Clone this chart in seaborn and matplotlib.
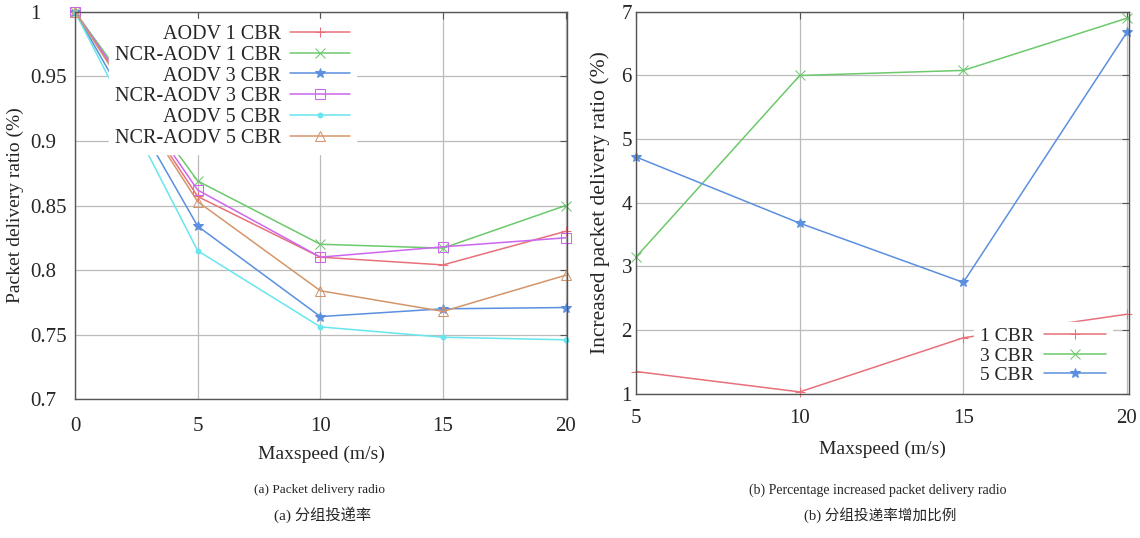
import numpy as np
import pandas as pd
import matplotlib
matplotlib.use("Agg")
import matplotlib.pyplot as plt
import seaborn as sns

# ---------------- data ----------------
speeds_a = [0, 5, 10, 15, 20]
aodv_1 = [1.000, 0.857, 0.810, 0.804, 0.830]
ncr_1 = [1.000, 0.869, 0.820, 0.817, 0.850]
aodv_3 = [1.000, 0.834, 0.764, 0.770, 0.771]
ncr_3 = [1.000, 0.862, 0.810, 0.818, 0.825]
aodv_5 = [1.000, 0.815, 0.756, 0.748, 0.746]
ncr_5 = [1.000, 0.853, 0.784, 0.768, 0.796]
labels_a = ["AODV 1 CBR", "NCR-AODV 1 CBR", "AODV 3 CBR",
            "NCR-AODV 3 CBR", "AODV 5 CBR", "NCR-AODV 5 CBR"]

speeds_b = [5, 10, 15, 20]
inc_1 = [1.35, 1.03, 1.88, 2.25]
inc_3 = [3.15, 6.00, 6.08, 6.90]
inc_5 = [4.72, 3.68, 2.75, 6.68]
labels_b = ["1 CBR", "3 CBR", "5 CBR"]

yticks_a = [0.7, 0.75, 0.8, 0.85, 0.9, 0.95, 1]
yticklabels_a = ["0.7", "0.75", "0.8", "0.85", "0.9", "0.95", "1"]
xticks_a = [0, 5, 10, 15, 20]
yticks_b = [1, 2, 3, 4, 5, 6, 7]
xticks_b = [5, 10, 15, 20]

# ---------------- style ----------------
sns.set_theme(style="white")
plt.rcParams["font.family"] = ["Liberation Serif", "DejaVu Serif"]
plt.rcParams["axes.edgecolor"] = "#555555"
plt.rcParams["axes.linewidth"] = 1.0

colors_a = ["#e8707a", "#6cc96c", "#5b8fe0", "#cc66ee", "#66e6ee", "#d4956a"]
markers_a = ["+", "x", "*", "s", ".", "^"]
colors_b = ["#e8707a", "#6cc96c", "#5b8fe0"]
markers_b = ["+", "x", "*"]

series_a = [aodv_1, ncr_1, aodv_3, ncr_3, aodv_5, ncr_5]
series_b = [inc_1, inc_3, inc_5]

fig = plt.figure(figsize=(11.4, 5.38), dpi=100)
ax1 = fig.add_axes([0.0658, 0.258, 0.4315, 0.720])
ax2 = fig.add_axes([0.558, 0.268, 0.432, 0.710])

FS = 14
TFS = 15

def style_axes(ax, xpad, ypad):
    ax.grid(True, color="#bbbbbb", linewidth=0.9)
    ax.set_axisbelow(True)
    ax.tick_params(direction="in", length=5, width=0.8, color="#555555",
                   top=True, right=True, labelsize=TFS)
    ax.tick_params(axis="x", pad=xpad)
    ax.tick_params(axis="y", pad=ypad)
    for s in ax.spines.values():
        s.set_visible(True)
        s.set_color("#555555")

def draw(ax, xs, ys_list, labels, colors, markers):
    for ys, lab, c, m in zip(ys_list, labels, colors, markers):
        d = pd.DataFrame({"speed": xs, "value": ys})
        kw = dict(marker=m, markersize=7, markeredgecolor=c)
        if m in ("s", "^"):
            kw["markerfacecolor"] = "none"
        sns.lineplot(data=d, x="speed", y="value", color=c, linewidth=1.1,
                     label=lab, ax=ax, clip_on=False, **kw)

# ---------- panel (a) ----------
draw(ax1, speeds_a, series_a, labels_a, colors_a, markers_a)
ax1.set_xlim(0, 20.05)
ax1.set_ylim(0.7, 1.0)
ax1.set_xticks(xticks_a)
ax1.set_yticks(yticks_a)
ax1.set_yticklabels(yticklabels_a)
style_axes(ax1, xpad=12.5, ypad=32.4)
for t in ax1.get_yticklabels():
    t.set_horizontalalignment("left")
ax1.set_xlabel("Maxspeed (m/s)", fontsize=FS, labelpad=7)
ax1.set_ylabel("Packet delivery ratio (%)", fontsize=FS, labelpad=4)
h, l = ax1.get_legend_handles_labels()
leg = ax1.legend(h, l, loc="upper left", bbox_to_anchor=(0.06, 0.992),
                 markerfirst=False, frameon=True, fontsize=14.5,
                 labelspacing=0.08, handlelength=3.0, handletextpad=0.45,
                 borderpad=0.3, borderaxespad=0.2, fancybox=False)
leg.get_frame().set_edgecolor("white")
leg.get_frame().set_facecolor("white")
leg.get_frame().set_alpha(1.0)
leg.set_zorder(10)

# ---------- panel (b) ----------
draw(ax2, speeds_b, series_b, labels_b, colors_b, markers_b)
ax2.set_xlim(5, 20.05)
ax2.set_ylim(1, 7)
ax2.set_xticks(xticks_b)
ax2.set_yticks(yticks_b)
style_axes(ax2, xpad=11, ypad=3)
ax2.set_xlabel("Maxspeed (m/s)", fontsize=FS, labelpad=9)
ax2.set_ylabel("Increased packet delivery ratio (%)", fontsize=15.5, labelpad=8)
h, l = ax2.get_legend_handles_labels()
leg2 = ax2.legend(h, l, loc="lower right", bbox_to_anchor=(0.97, 0.005),
                  markerfirst=False, frameon=True, fontsize=FS,
                  labelspacing=0.1, handlelength=3.2, handletextpad=0.5,
                  borderpad=0.3, borderaxespad=0.1, fancybox=False)
leg2.get_frame().set_edgecolor("white")
leg2.get_frame().set_facecolor("white")
leg2.get_frame().set_alpha(1.0)
leg2.set_zorder(10)

# ---------- captions ----------
cap_fam = ["Liberation Serif", "DejaVu Serif"]
cjk_fam = ["Liberation Serif", "Noto Sans CJK SC", "DejaVu Sans"]
fig.text(320 / 1140, 1 - 490 / 538, "(a) Packet delivery radio", ha="center",
         va="center", fontsize=9.5, family=cap_fam)
fig.text(323 / 1140, 1 - 515 / 538, "(a) 分组投递率", ha="center",
         va="center", fontsize=11, family=cjk_fam, fontweight="medium")
fig.text(878 / 1140, 1 - 490 / 538, "(b) Percentage increased packet delivery radio",
         ha="center", va="center", fontsize=10, family=cap_fam)
fig.text(880 / 1140, 1 - 515 / 538, "(b) 分组投递率增加比例", ha="center",
         va="center", fontsize=10.5, family=cjk_fam, fontweight="medium")

fig.savefig("out.png", dpi=100, facecolor="white")
